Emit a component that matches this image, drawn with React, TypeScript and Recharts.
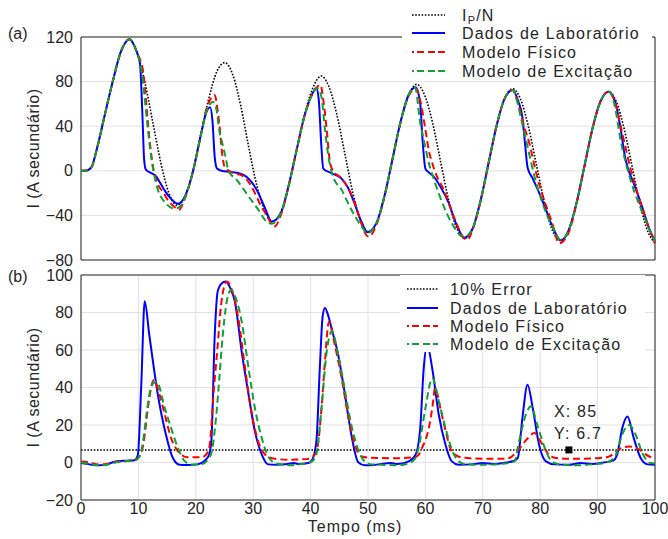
import { LineChart, Line, XAxis, YAxis, CartesianGrid, ReferenceArea, ReferenceDot, Legend } from 'recharts';

const FONT = '"Liberation Sans", Arial, Helvetica, sans-serif';
const INK = '#262626';
const BLUE = '#0000ff';
const RED = '#ff0000';
const GREEN = '#10a035';

const xTicks = [0, 10, 20, 30, 40, 50, 60, 70, 80, 90, 100];
const topYTicks = [-80, -40, 0, 40, 80, 120];
const botYTicks = [-20, 0, 20, 40, 60, 80, 100];

// (a) currents, [tempo ms, I]
const ipnTop = [
  [0, 0], [1, 0.3], [1.8, 3], [2.78, 20], [4.18, 51], [5.57, 81], [6.96, 107], [8.45, 118], [9.74, 106], [11.14, 79],
  [12.53, 43], [13.92, 7], [15.31, -20], [16.8, -31], [18.1, -23], [19.49, 0], [20.88, 33], [22.27, 65], [23.66, 89],
  [25.06, 97], [26.45, 86], [27.84, 58], [29.23, 21], [30.62, -13], [32.02, -36], [33.41, -45.5], [34.8, -37],
  [36.19, -13], [37.58, 19], [38.98, 51], [40.37, 74], [41.85, 85], [43.15, 76], [44.54, 51], [45.94, 16], [47.33, -19],
  [48.72, -45], [50.11, -55], [51.5, -46.5], [52.9, -22], [54.29, 11], [55.68, 44], [57.07, 68], [58.46, 77.5],
  [59.86, 68], [61.25, 43], [62.64, 8.5], [64.03, -26], [65.42, -51], [66.82, -60.5], [68.21, -52], [69.6, -27],
  [70.99, 6.5], [72.38, 40], [73.78, 64.5], [75.17, 73.5], [76.56, 64.5], [77.95, 39.5], [79.34, 5.5], [80.74, -28.5],
  [82.13, -53.5], [83.52, -62.5], [84.91, -54], [86.3, -29.5], [87.7, 4], [89.09, 37.5], [90.48, 62], [91.87, 71],
  [93.26, 62], [94.66, 37], [96.05, 3], [97.44, -31], [98.83, -55.5], [100, -64.5],
];

const labTop = [
  [0, 0], [1, 0.3], [1.8, 3], [2.78, 20], [4.18, 51], [5.57, 81], [6.96, 107], [8.45, 118], [9.3, 112], [9.9, 104],
  [10.3, 95], [10.7, 50], [11.0, 10], [11.3, 1], [12.2, -2], [13.1, -5], [13.7, -10], [15.1, -21.5], [16.9, -29.5],
  [18.1, -23], [19.49, -1], [20.88, 32], [21.8, 52], [22.5, 57], [22.9, 45], [23.3, 12], [23.7, 2], [24.5, 0], [26, -1],
  [28, -3], [29.7, -10], [30.9, -20], [32.1, -34], [33.2, -45.5], [34.8, -38], [36.19, -13], [37.58, 19], [38.98, 50],
  [40.2, 68], [41.0, 74], [41.4, 65], [41.9, 20], [42.2, 2], [43.6, -2], [45.4, -7], [46.5, -15], [47.7, -30],
  [48.8, -45], [49.9, -55], [51.5, -46.5], [52.9, -22], [54.29, 11], [55.68, 44], [57.07, 68], [58.3, 75], [59.1, 60],
  [59.5, 28], [60, 2], [60.5, -1], [61.4, -5], [62.6, -14], [64, -28], [65.4, -48], [66.8, -60], [68.21, -52],
  [69.6, -27], [70.99, 6.5], [72.38, 40], [73.78, 64.5], [75.2, 72.5], [76.2, 62], [76.9, 48], [77.4, 22], [77.8, 3],
  [78.7, -7], [80, -22], [81, -35], [82.3, -52], [83.6, -62.5], [84.91, -54], [86.3, -29.5], [87.7, 4], [89.09, 37.5],
  [90.48, 62], [91.9, 71], [93, 63], [94, 38], [94.8, 12], [95.3, 2], [96.2, -10], [97.8, -33], [99, -52], [100, -63],
];

const fisTop = [
  [0, 0], [1, 0.3], [1.8, 3], [2.78, 20], [4.18, 51], [5.57, 81], [6.96, 107], [8.45, 118], [9.74, 106], [10.8, 90],
  [11.2, 70], [11.9, 30], [12.5, 5], [13.4, -12], [14.3, -19], [15.1, -26], [16.2, -32], [17.0, -35], [18.1, -25],
  [19.49, -1], [20.88, 32], [22.0, 58], [22.8, 66], [23.3, 68], [23.7, 58], [24.1, 42], [24.6, 15], [25.0, 4],
  [26.3, -1.5], [28, -4], [29.2, -10], [30.3, -20], [31.2, -30], [32, -37], [33, -46], [33.7, -50], [34.8, -40],
  [36.19, -13.5], [37.58, 19], [38.98, 50], [40.2, 68], [41.1, 75], [41.7, 77], [42.3, 60], [42.8, 37], [43.4, 7],
  [44.2, -2], [45, -5], [46, -11], [47.7, -29], [48.7, -45], [49.4, -55], [50.1, -59], [51.5, -48], [52.9, -22.5],
  [54.29, 11], [55.68, 44], [57.07, 67], [58.3, 74], [59.1, 63], [60, 37], [60.6, 18], [61.2, 6.7], [62, -5], [63, -15],
  [64, -28], [65.4, -47], [66.5, -59], [67.3, -62], [68.21, -53], [69.6, -27.5], [70.99, 6.5], [72.38, 40], [73.78, 64.5],
  [75.2, 72.5], [76.3, 57.5], [77.2, 40], [78.1, 24.7], [79.3, -2], [80.4, -21.7], [82.1, -47], [83.3, -65], [84.91, -56],
  [86.3, -30], [87.7, 4], [89.09, 37.5], [90.48, 62], [91.9, 71], [93, 62], [94.3, 33.6], [95.8, 0.7], [97.5, -29],
  [99, -52], [100, -65],
];

const excTop = [
  [0, 0], [1, 0.3], [1.8, 3], [2.78, 20], [4.18, 51], [5.57, 81], [6.96, 107], [8.45, 118], [9.74, 106], [10.6, 88],
  [11.0, 70], [11.6, 40], [12.3, 10], [13.4, -17], [14.6, -28], [16.3, -34], [17.3, -32], [18.1, -24], [19.49, -1],
  [20.88, 32], [22.0, 55], [23, 62], [23.6, 55], [24.1, 36], [24.6, 25], [25.2, 12], [25.7, 0], [27.1, -8], [29.2, -23],
  [30.9, -35], [32.3, -45.5], [33.2, -47.5], [34.8, -38], [36.19, -13], [37.58, 19], [38.98, 50], [40.2, 68], [41.2, 74],
  [41.9, 66], [42.5, 37], [43.1, 13], [43.9, -5], [45.4, -17], [47.1, -35], [48.9, -50], [49.9, -56], [51.5, -46.5],
  [52.9, -22], [54.29, 11], [55.68, 44], [57.07, 68], [58.2, 75], [59.1, 43], [59.7, 28], [60.6, 7], [61.7, -11],
  [63.2, -32], [64.6, -47], [66.7, -59.5], [68.21, -52], [69.6, -27], [70.99, 6.5], [72.38, 40], [73.78, 64.5],
  [75.2, 72.5], [76.0, 62], [76.6, 48.5], [77.8, 21.6], [79, -5], [80.4, -29], [82.1, -50], [83.6, -62], [84.91, -54],
  [86.3, -29.5], [87.7, 4], [89.09, 37.5], [90.48, 62], [92, 71], [93, 58], [94, 27.6], [95.5, -4], [97.5, -33.6],
  [99, -52], [100, -63],
];

// (b) errors
const errLimit = [[0, 6.7], [100, 6.7]];

const labBot = [
  [0, -0.3], [1.5, -1], [3, -1.5], [4.5, -1], [6, 0.5], [8, 1], [9.3, 1.2], [9.9, 4], [10.5, 41.5], [11.1, 86],
  [11.9, 68], [13.4, 36], [14.8, 14.8], [16, 2.4], [17.2, -1.2], [18.5, -1.3], [20.3, -1], [21.5, 0.8], [22.3, 4],
  [22.7, 11], [23.3, 68], [23.8, 91], [24.5, 95.5], [25.2, 96.5], [26, 93], [26.8, 86], [28, 59], [29.2, 36],
  [30.3, 16.6], [31.5, 4.2], [32.6, -1], [34, -1.2], [36, -0.8], [37, -0.2], [38, -0.8], [39.6, -0.3], [40.2, 1],
  [41, 11], [41.6, 50], [42.1, 78], [42.5, 82.4], [43, 79], [43.7, 71], [44.8, 57.5], [46, 36], [47.1, 14.8],
  [48.3, 0.1], [49.4, -1.5], [51, -1.3], [53, -0.5], [54, -0.2], [55, -0.8], [57, 0.5], [58.3, 4.3], [59.1, 18.4],
  [59.7, 50], [60.3, 62.8], [61.2, 50], [62.3, 26], [63.5, 9.5], [64.6, 0.6], [65.8, -1.2], [68, -1], [70, -0.3],
  [72, -0.8], [74, 0], [75.4, 0.8], [76.1, 2.4], [76.9, 23.7], [77.8, 41.5], [78.7, 29], [79.8, 9.5], [81, 0.6],
  [82.5, -1], [85, -1.2], [87, -0.3], [89, -0.8], [91, 0], [92.7, 1], [93.4, 4.2], [94.3, 18.4], [95.2, 24.6],
  [96.3, 13], [97.5, 2.4], [98.7, -1], [100, -1.2],
];

const fisBot = [
  [0, 0.5], [1.5, 0], [3, -1], [4.5, -0.8], [6, 0.3], [8, 0.8], [9.5, 1.5], [10.5, 5], [11.1, 14.8], [11.65, 29],
  [12.7, 44], [13.7, 36], [14.6, 25.5], [15.7, 13], [16.9, 6], [18.6, 2.8], [21, 2.8], [22, 5], [22.4, 9], [23.2, 41],
  [23.8, 62], [24.4, 84], [25.4, 96.5], [26.3, 92], [27.4, 77], [28.6, 50], [29.7, 27], [30.9, 11], [32.1, 4.2],
  [33.8, 2], [36, 1.5], [39.3, 1.8], [40.3, 3], [40.8, 4.5], [41.3, 10], [41.9, 29], [42.5, 54], [43.2, 75], [44.2, 63],
  [45.4, 45], [46.6, 24], [47.7, 9.5], [48.9, 3.2], [50.5, 2.5], [55, 2.3], [58, 2.8], [58.8, 4], [59.4, 7.7],
  [60.6, 18.4], [61.2, 29], [61.7, 39.7], [62.6, 29], [63.5, 17], [64.6, 6], [66.4, 2.6], [70, 2], [74, 2], [74.6, 2.4],
  [76.3, 7], [77.5, 11.8], [79, 15.7], [80.1, 11], [81.3, 5], [82.7, 2.4], [86, 2], [90, 2.3], [92, 3.2], [93.7, 7],
  [95.5, 8.6], [97.2, 7], [99, 3.2], [100, 2.5],
];

const excBot = [
  [0, 0], [1.5, -0.8], [3, -1.5], [4.5, -1.2], [6, 0], [8, 0.8], [9.5, 1.3], [10.3, 4], [10.8, 11], [11.4, 25.5],
  [11.9, 36], [12.5, 42], [13.2, 43], [14.6, 29], [15.7, 18.4], [16.9, 7.7], [18, 1], [19.2, -1], [21, -1], [21.8, 0.5],
  [22.7, 5], [23.5, 23], [24.1, 45], [24.7, 68], [25.7, 90], [26.2, 92], [26.8, 89], [28, 75], [29.2, 50], [30.3, 29],
  [31.5, 13], [32.6, 3.2], [33.8, -0.3], [35, -1], [36.5, -1.5], [38, -1], [39.5, -0.2], [40.4, 1], [41, 4.3],
  [41.9, 29], [42.8, 59], [43.7, 70], [44.8, 57.5], [46, 38], [47.1, 20], [48.3, 6.8], [49.4, 0.6], [50.5, -1],
  [53, -1.3], [55, -1.5], [57, -0.5], [58.2, 2], [58.8, 7.7], [60, 29], [61.2, 45], [62.3, 33], [63.5, 18.4], [64.6, 7],
  [65.8, 0.6], [67, -1], [70, -1.2], [73, -0.8], [75.5, 0.5], [76.3, 11], [77.5, 25.5], [78.4, 30], [79.5, 20],
  [80.7, 8.6], [81.9, 1], [83, -0.8], [86, -1.5], [89, -1], [91.5, 0], [92.5, 1.5], [93.2, 4.3], [94.3, 15], [95.5, 20],
  [96.6, 15], [97.8, 5], [99.2, -0.3], [100, -0.5],
];

const tipX = 85;
const tipY = 6.7;

const pts = (a: number[][]) => a.map(([t, v]) => ({ t, v }));
const minus = (v: number) => String(v).replace('-', '\u2212');

const tickStyle = { fontSize: 16, fill: INK, fontFamily: FONT };
const DASH = '7 4';
const DOT = '1.6 1.6';

const YLabel = ({ viewBox, tag, tagY }: any) => {
  const cy = viewBox.y + viewBox.height / 2;
  return (
    <g fontFamily={FONT} fill={INK} fontSize={16}>
      <text x={33} y={cy} transform={`rotate(-90 33 ${cy})`} textAnchor="middle" dominantBaseline="central"
        style={{ letterSpacing: 0.5 }}>I (A secundário)</text>
      <text x={8} y={tagY}>{tag}</text>
    </g>
  );
};

const XLabel = ({ viewBox }: any) => (
  <text x={355} y={viewBox.y + 32} textAnchor="middle" fontFamily={FONT} fontSize={16} fill={INK}
    style={{ letterSpacing: 1 }}>Tempo (ms)</text>
);

const Sample = ({ y, x1, x2, color, kind }: any) => {
  const dash = kind === 'dot' ? DOT : kind === 'dash' ? '2 3 7 4 7 3 7' : undefined;
  return <line x1={x1} x2={x2} y1={y} y2={y} stroke={color} strokeWidth={kind === 'dot' ? 1.6 : 2} strokeDasharray={dash} />;
};

const legendText = { fontFamily: FONT, fontSize: 16, fill: INK, letterSpacing: 1.2 };

const TopLegend = () => (
  <svg width={250} height={84} style={{ display: 'block', overflow: 'visible' }}>
    <rect width={250} height={79} fill="#fff" />
    <Sample y={15} x1={10} x2={43} color="#000" kind="dot" />
    <Sample y={33} x1={10} x2={43} color={BLUE} />
    <Sample y={52} x1={10} x2={43} color={RED} kind="dash" />
    <Sample y={71} x1={10} x2={43} color={GREEN} kind="dash" />
    <text x={60} y={21} style={legendText}>I<tspan fontSize={11} dy={3}>P</tspan><tspan dy={-3}>/N</tspan></text>
    <text x={60} y={39} style={legendText}>Dados de Laboratório</text>
    <text x={60} y={58} style={legendText}>Modelo Físico</text>
    <text x={60} y={77} style={legendText}>Modelo de Excitação</text>
  </svg>
);

const BotLegend = () => (
  <svg width={245} height={82} style={{ display: 'block', overflow: 'visible' }}>
    <rect width={245} height={77} fill="#fff" />
    <Sample y={14} x1={7} x2={38} color="#000" kind="dot" />
    <Sample y={33} x1={7} x2={38} color={BLUE} />
    <Sample y={51} x1={7} x2={38} color={RED} kind="dash" />
    <Sample y={69} x1={7} x2={38} color={GREEN} kind="dash" />
    <text x={50} y={20} style={legendText}>10% Error</text>
    <text x={50} y={39} style={legendText}>Dados de Laboratório</text>
    <text x={50} y={57} style={legendText}>Modelo Físico</text>
    <text x={50} y={75} style={legendText}>Modelo de Excitação</text>
  </svg>
);

const TipMarker = ({ cx, cy }: any) => (
  <g fontFamily={FONT} fontSize={16} fill={INK}>
    <rect x={cx - 3.5} y={cy - 3.5} width={7} height={7} fill="#000" />
    <text x={cx - 15} y={cy - 33} style={{ letterSpacing: 1.2 }}>X: {tipX}</text>
    <text x={cx - 15} y={cy - 11} style={{ letterSpacing: 1.2 }}>Y: {tipY}</text>
  </g>
);

export default function App() {
  return (
    <div style={{ position: 'absolute', left: 0, top: 0, width: 668, height: 539, background: '#fff' }}>
      <div style={{ position: 'absolute', left: 0, top: 262 }}>
        <LineChart width={668} height={277} margin={{ top: 13, right: 13, bottom: 0, left: 0 }}>
          <CartesianGrid stroke="#e2e2e2" />
          <XAxis type="number" dataKey="t" domain={[0, 100]} ticks={xTicks} height={39} axisLine={false}
            tickLine={false} tickSize={0} tickMargin={3} tick={tickStyle} interval={0}
            label={{ content: (p: any) => <XLabel {...p} /> }} />
          <YAxis type="number" domain={[-20, 100]} ticks={botYTicks} width={81} axisLine={false} tickLine={false}
            tickSize={0} tickMargin={8} tick={tickStyle} tickFormatter={minus} interval={0}
            label={{ content: (p: any) => <YLabel {...p} tag="(b)" tagY={20} /> }} />
          <ReferenceArea x1={0} x2={100} y1={-20} y2={100} fill="none" stroke={INK} strokeWidth={1} fillOpacity={0} />
          <Line data={pts(errLimit)} dataKey="v" type="linear" stroke="#000" strokeWidth={1.6} strokeDasharray={DOT}
            dot={false} activeDot={false} isAnimationActive={false} />
          <Line data={pts(labBot)} dataKey="v" type="monotone" stroke={BLUE} strokeWidth={2}
            dot={false} activeDot={false} isAnimationActive={false} />
          <Line data={pts(fisBot)} dataKey="v" type="monotone" stroke={RED} strokeWidth={2} strokeDasharray={DASH}
            dot={false} activeDot={false} isAnimationActive={false} />
          <Line data={pts(excBot)} dataKey="v" type="monotone" stroke={GREEN} strokeWidth={2} strokeDasharray={DASH}
            dot={false} activeDot={false} isAnimationActive={false} />
          <ReferenceDot x={tipX} y={tipY} r={4} shape={(p: any) => <TipMarker {...p} />} />
          <Legend layout="horizontal" verticalAlign="middle" align="center" width={245} height={77}
            wrapperStyle={{ left: 400, top: 13, width: 245, height: 77 }} content={() => <BotLegend />} />
        </LineChart>
      </div>
      <div style={{ position: 'absolute', left: 0, top: 0 }}>
        <LineChart width={668} height={272} margin={{ top: 37, right: 13, bottom: 10, left: 0 }}>
          <CartesianGrid stroke="#e2e2e2" />
          <XAxis type="number" dataKey="t" domain={[0, 100]} ticks={xTicks} tick={false} axisLine={false}
            tickLine={false} height={2} />
          <YAxis type="number" domain={[-80, 120]} ticks={topYTicks} width={81} axisLine={false} tickLine={false}
            tickSize={0} tickMargin={8} tick={tickStyle} tickFormatter={minus} interval={0}
            label={{ content: (p: any) => <YLabel {...p} tag="(a)" tagY={39} /> }} />
          <ReferenceArea x1={0} x2={100} y1={-80} y2={120} fill="none" stroke={INK} strokeWidth={1} fillOpacity={0} />
          <Line data={pts(ipnTop)} dataKey="v" type="monotone" stroke="#000" strokeWidth={1.6} strokeDasharray={DOT}
            dot={false} activeDot={false} isAnimationActive={false} />
          <Line data={pts(labTop)} dataKey="v" type="monotone" stroke={BLUE} strokeWidth={2}
            dot={false} activeDot={false} isAnimationActive={false} />
          <Line data={pts(fisTop)} dataKey="v" type="monotone" stroke={RED} strokeWidth={2} strokeDasharray={DASH}
            dot={false} activeDot={false} isAnimationActive={false} />
          <Line data={pts(excTop)} dataKey="v" type="monotone" stroke={GREEN} strokeWidth={2} strokeDasharray={DASH}
            dot={false} activeDot={false} isAnimationActive={false} />
          <Legend layout="horizontal" verticalAlign="middle" align="center" width={250} height={78}
            wrapperStyle={{ left: 402, top: 0, width: 250, height: 78 }} content={() => <TopLegend />} />
        </LineChart>
      </div>
    </div>
  );
}
